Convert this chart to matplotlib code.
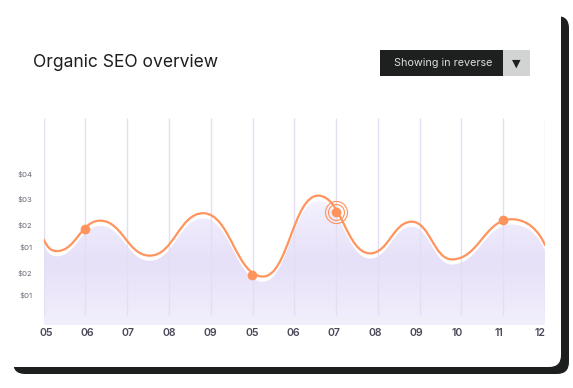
import matplotlib.pyplot as plt
import numpy as np
from matplotlib.path import Path
from matplotlib.patches import PathPatch, FancyBboxPatch, Rectangle
from matplotlib.colors import LinearSegmentedColormap

# curve turning points (x in month slots, y in chart units)
curve_x = [0.0, 0.31, 1.35, 2.54, 3.82, 5.25, 6.57, 7.81, 8.81, 9.77, 11.2, 12.0]
curve_y = [41.4, 35.7, 50.4, 33.5, 54.0, 23.4, 62.5, 34.6, 49.9, 31.7, 51.1, 38.6]

# highlighted points
mark_x = [1.0, 4.99, 7.0, 11.0]
mark_y = [46.4, 24.2, 54.7, 50.7]

months = ["05", "06", "07", "08", "09", "05", "06", "07", "08", "09", "10", "11", "12"]
ytick_vals = [72.9, 60.9, 48.3, 37.7, 25.1, 14.5]
ytick_labels = ["$04", "$03", "$02", "$01", "$02", "$01"]

W, H = 573, 388
fig = plt.figure(figsize=(W / 100, H / 100), dpi=100)
fig.patch.set_facecolor("white")

# background card
bg = fig.add_axes([0, 0, 1, 1])
bg.set_xlim(0, W)
bg.set_ylim(H, 0)
bg.axis("off")
bg.add_patch(FancyBboxPatch((13, 16), 556, 358, boxstyle="round,pad=0,rounding_size=12",
                            fc="#1d1f1e", ec="none"))
bg.add_patch(FancyBboxPatch((-20, -20), 581, 387, boxstyle="round,pad=0,rounding_size=12",
                            fc="white", ec="none"))
bg.text(33, 62.5, "Organic SEO overview", fontsize=12.6, family="Inter", color="#1e1e1e",
        va="center", ha="left")
bg.add_patch(Rectangle((380, 50), 123, 26, fc="#1e201f", ec="none"))
bg.add_patch(Rectangle((503, 50), 27, 26, fc="#d2d4d3", ec="none"))
bg.text(443, 63.5, "Showing in reverse", fontsize=7.8, family="Inter", color="#dcdcdc",
        va="center", ha="center")
bg.text(516.5, 63.5, "▼", fontsize=8, family="DejaVu Sans", color="#1e201f",
        va="center", ha="center")

ax = fig.add_axes([43.7 / W, 1 - 325 / H, (545 - 43.7) / W, (325 - 118) / H])
ax.set_xlim(0, 12)
ax.set_ylim(0, 100)
ax.patch.set_alpha(0)
for s in ax.spines.values():
    s.set_visible(False)


def wave(xs, ys, dy=0.0, k=0.45):
    verts = [(xs[0], ys[0] - dy)]
    codes = [Path.MOVETO]
    n = len(xs)
    for i in range(n - 1):
        x0, y0, x1, y1 = xs[i], ys[i] - dy, xs[i + 1], ys[i + 1] - dy
        d = x1 - x0
        if i == 0:
            c1 = (x0 + d * 0.25, y0 - (y0 - y1) * 0.65)
        else:
            c1 = (x0 + d * k, y0)
        if i == n - 2:
            c2 = (x1 - d * 0.2, y1 + (y0 - y1) * 0.6)
        else:
            c2 = (x1 - d * k, y1)
        verts += [c1, c2, (x1, y1)]
        codes += [Path.CURVE4] * 3
    return verts, codes


# gradient fill under the curve, offset a little below the line
fv, fc = wave(curve_x, curve_y, dy=2.5)
fv = [(0, 0), fv[0]] + fv[1:] + [(12, 0), (0, 0)]
fc = [Path.MOVETO, Path.LINETO] + fc[1:] + [Path.LINETO, Path.CLOSEPOLY]
fill = PathPatch(Path(fv, fc), fc="none", ec="none")
ax.add_patch(fill)
cmap = LinearSegmentedColormap.from_list(
    "lav", [(0, "#f2effc"), (0.3, "#e6e0f8"), (0.55, "#f1eefd"), (0.68, "#fdfcff"), (1, "#ffffff")])
grad = np.linspace(0, 1, 256).reshape(-1, 1)
img = ax.imshow(grad, extent=(0, 12, 0, 100), origin="lower", aspect="auto",
                cmap=cmap, zorder=1)
img.set_clip_path(fill)

ax.vlines(range(13), 4.8, 100, colors="#e3def2", lw=1, zorder=2)

lv, lc = wave(curve_x, curve_y)
ax.add_patch(PathPatch(Path(lv, lc), fc="none", ec="#ff945e", lw=1.6, zorder=3,
                       capstyle="round"))
ax.plot(mark_x, mark_y, "o", ms=7, color="#ff935c", mec="none", zorder=4)
for r in (8.0, 11.0):
    ax.plot(mark_x[2], mark_y[2], "o", ms=r * 2 * 0.72, mfc="none", mec="#ff935c",
            mew=0.8, zorder=4)

ax.set_xticks(np.linspace(0.055, 11.88, 13))
ax.set_xticklabels(months, fontsize=7.6, family="Inter", weight="semibold", color="#4a4858")
ax.set_yticks(ytick_vals)
ax.set_yticklabels(ytick_labels, fontsize=5.6, family="Inter", color="#6a6874")
ax.tick_params(axis="x", length=0, pad=2)
ax.tick_params(axis="y", length=0, pad=8)

fig.savefig("out.png", dpi=100)
